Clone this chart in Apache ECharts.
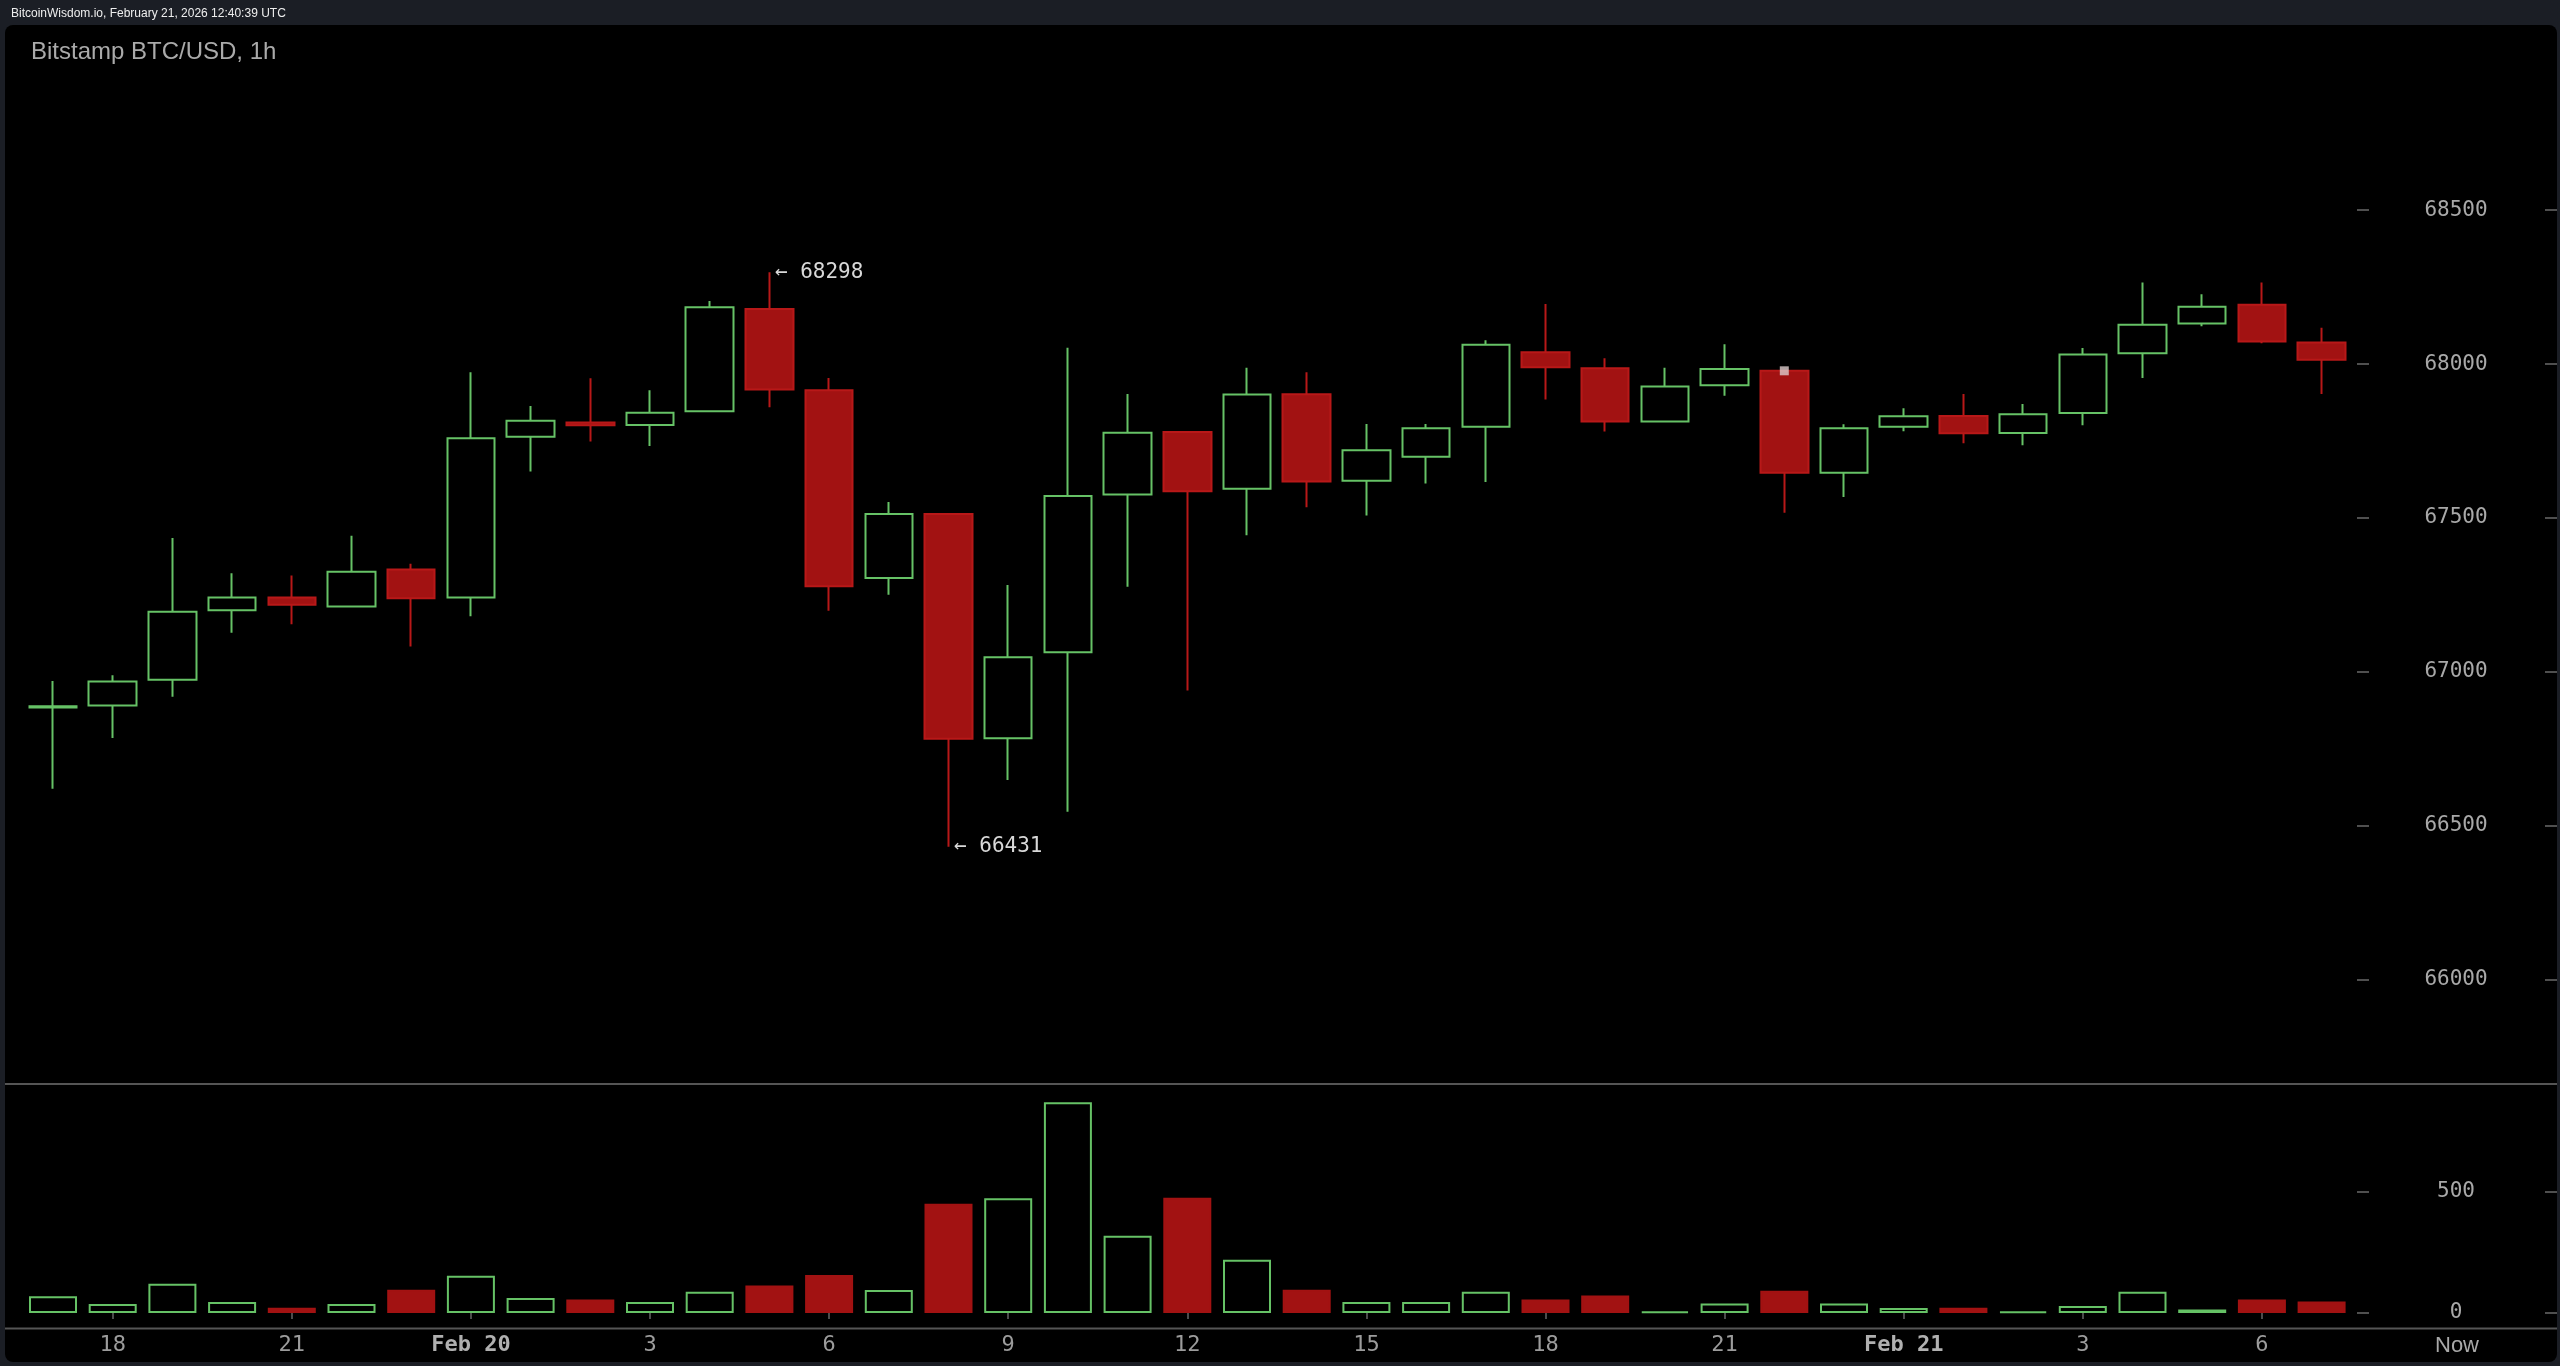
<!DOCTYPE html>
<html>
<head>
<meta charset="utf-8">
<script src="https://cdn.jsdelivr.net/npm/echarts@6/dist/echarts.min.js"></script>
<style>
  html, body { margin: 0; padding: 0; background: #1b1e25; }
  #chart { width: 2560px; height: 1366px; }
</style>
</head>
<body>
<div id="chart"></div>
<script>
// ---- Data (hourly candles, Feb 19 17:00 -> Feb 21 07:00, plus two empty future slots) ----
const hourCats = ['17','18','19','20','21','22','23','0','1','2','3','4','5','6','7','8','9','10','11','12','13','14','15','16','17','18','19','20','21','22','23','0','1','2','3','4','5','6','7','8','9'];
const tickLabels = ['','18','','','21','','','Feb 20','','','3','','','6','','','9','','','12','','','15','','','18','','','21','','','Feb 21','','','3','','','6','','','Now'];
const dateLabels = ['Feb 20', 'Feb 21'];

const openP  = [66884,66890,66974,67200,67241,67212,67332,67241,67764,67810,67802,67847,68179,67915,67305,67513,66784,67063,67576,67779,67595,67902,67621,67699,67796,68038,67986,67813,67931,67978,67647,67796,67831,67776,67841,68035,68132,68193,68070];
const closeP = [66888,66968,67195,67241,67218,67325,67239,67759,67816,67801,67842,68185,67917,67278,67513,66782,67047,67571,67777,67587,67901,67618,67720,67791,68063,67990,67813,67927,67984,67647,67791,67830,67775,67837,68031,68128,68186,68073,68014];
const lowP   = [66620,66785,66919,67127,67154,67210,67082,67180,67651,67748,67734,67845,67860,67198,67250,66431,66648,66545,67276,66939,67444,67535,67508,67612,67617,67885,67781,67813,67897,67517,67568,67782,67743,67736,67801,67955,68123,68068,67903];
const highP  = [66970,66989,67435,67320,67313,67442,67351,67973,67864,67954,67915,68205,68298,67955,67552,67513,67282,68053,67903,67779,67988,67973,67805,67805,68077,68195,68019,67988,68064,67978,67804,67856,67903,67870,68052,68265,68227,68265,68118];
const volume = [69,37,120,45,22,37,96,153,62,55,45,87,113,156,95,449,472,867,318,474,219,96,45,45,87,55,72,7,39,92,39,21,22,7,29,87,14,55,47];

const priceTicks  = [66000, 66500, 67000, 67500, 68000, 68500];
const volumeTicks = [0, 500];
const markerPoints = [[29, 67978]];

// ---- Styles ----
const UP = '#66c266';
const DOWN = '#a21212';
const DOWN_B = '#b81818';
const AXIS_TXT = '#a8a8a8';
const MONO = 'DejaVu Sans Mono';

const candleData = openP.map((o, i) => [o, closeP[i], lowP[i], highP[i]]);
const volData = volume.map((v, i) => {
  const up = closeP[i] >= openP[i];
  return {
    value: v,
    itemStyle: up
      ? { color: 'rgba(0,0,0,0)', borderColor: UP, borderWidth: 2 }
      : { color: DOWN, borderColor: DOWN, borderWidth: 2 }
  };
});

const GL = 23.15, GW = 2447.7;
const gridRight = GL + GW;
const innerAxisOffset = 2357 - gridRight;
const edgeAxisOffset = 2557 - gridRight;

function priceAxis(idx, inner) {
  return {
    type: 'value', gridIndex: idx,
    position: 'right',
    min: idx === 0 ? 65660.2 : 0,
    max: idx === 0 ? 69101.9 : 941.6,
    offset: inner ? innerAxisOffset : edgeAxisOffset,
    splitLine: { show: false },
    axisLine: { show: false },
    axisTick: {
      show: true, inside: !inner, length: 12,
      customValues: idx === 0 ? priceTicks : volumeTicks,
      lineStyle: { color: '#6a6a6a', width: 1.5 }
    },
    axisLabel: {
      show: inner,
      customValues: idx === 0 ? priceTicks : volumeTicks,
      formatter: v => String(v),
      align: 'center',
      margin: 99,
      color: AXIS_TXT,
      fontFamily: MONO,
      fontSize: 21
    }
  };
}

const chart = echarts.init(document.getElementById('chart'), null, { renderer: 'canvas' });
chart.setOption({
  animation: false,
  backgroundColor: '#1b1e25',
  title: [
    { text: 'BitcoinWisdom.io, February 21, 2026 12:40:39 UTC', left: 11, top: 8, padding: 0,
      textStyle: { color: '#eeeeee', fontSize: 12, fontWeight: 'normal', fontFamily: 'Liberation Sans' } },
    { text: 'Bitstamp BTC/USD, 1h', left: 31, top: 40, padding: 0,
      textStyle: { color: '#aaaaaa', fontSize: 24, fontWeight: 'normal', fontFamily: 'Liberation Sans' } }
  ],
  graphic: [
    { type: 'rect', z: -10, silent: true, shape: { x: 5, y: 25, width: 2552, height: 1337, r: 8 }, style: { fill: '#000000' } },
    { type: 'line', z: 1, silent: true, shape: { x1: 5, y1: 1084, x2: 2557, y2: 1084 }, style: { stroke: '#555555', lineWidth: 2 } },
    { type: 'line', z: 1, silent: true, shape: { x1: 5, y1: 1328.5, x2: 2557, y2: 1328.5 }, style: { stroke: '#555555', lineWidth: 2 } }
  ],
  grid: [
    { left: GL, width: GW, top: 25, height: 1059 },
    { left: GL, width: GW, top: 1084, height: 229 }
  ],
  xAxis: [
    { type: 'category', gridIndex: 0, data: hourCats, boundaryGap: true, show: false },
    {
      type: 'category', gridIndex: 1, data: hourCats, boundaryGap: true,
      offset: 15.5,
      axisLine: { show: false },
      axisTick: {
        show: true, alignWithLabel: true, length: 6,
        interval: (i) => tickLabels[i] !== '' && tickLabels[i] !== 'Now',
        lineStyle: { color: '#666666', width: 1.5 }
      },
      axisLabel: {
        interval: (i) => tickLabels[i] !== '',
        margin: 6,
        color: '#9c9c9c',
        fontFamily: MONO,
        fontSize: 22,
        formatter: (v, i) => {
          const t = tickLabels[i];
          if (dateLabels.includes(t)) return '{d|' + t + '}';
          if (t === 'Now') return '{n|' + t + '}';
          return t;
        },
        rich: {
          d: { fontFamily: MONO, fontSize: 22, fontWeight: 'bold', color: '#b0b0b0' },
          n: { fontFamily: 'Liberation Sans', fontSize: 22, color: '#a8a8a8', padding: [0, 0, 0, 32] }
        }
      }
    }
  ],
  yAxis: [priceAxis(0, true), priceAxis(0, false), priceAxis(1, true), priceAxis(1, false)],
  series: [
    {
      type: 'candlestick',
      xAxisIndex: 0, yAxisIndex: 0,
      data: candleData,
      barWidth: 48,
      itemStyle: { color: 'rgba(0,0,0,0)', color0: DOWN, borderColor: UP, borderColor0: DOWN_B, borderWidth: 2 },
      markPoint: {
        symbol: 'circle', symbolSize: 1,
        itemStyle: { color: 'rgba(0,0,0,0)' },
        label: {
          show: true, position: 'right', distance: 5,
          color: '#d8d8d8', fontFamily: MONO, fontSize: 21,
          formatter: p => '\u2190 ' + p.value
        },
        data: [
          { type: 'max', valueDim: 'highest', name: 'high' },
          { type: 'min', valueDim: 'lowest', name: 'low' }
        ]
      }
    },
    {
      type: 'scatter', xAxisIndex: 0, yAxisIndex: 0,
      data: markerPoints, symbol: 'rect', symbolSize: 9, z: 5,
      itemStyle: { color: '#dccaca' }
    },
    {
      type: 'bar', xAxisIndex: 1, yAxisIndex: 2,
      data: volData, barWidth: 48
    }
  ]
});
</script>
</body>
</html>
